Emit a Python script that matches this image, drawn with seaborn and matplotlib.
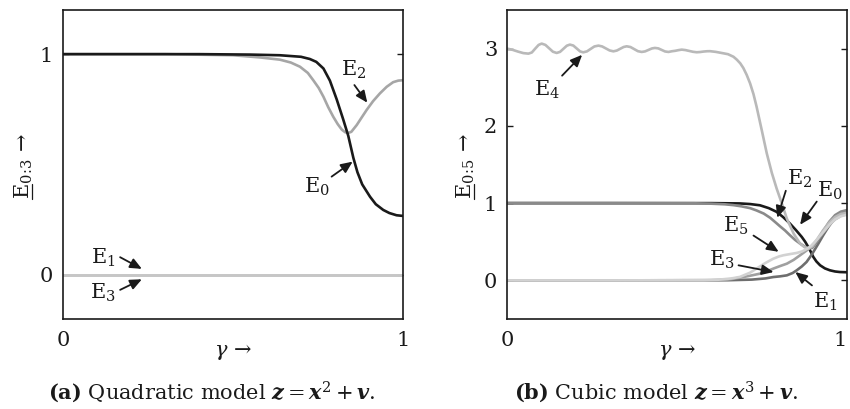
import matplotlib
matplotlib.use("Agg")
import matplotlib.pyplot as plt
import seaborn as sns
from matplotlib.lines import Line2D

# ---- (a) quadratic model -------------------------------------------------
gamma_a_E0 = [0.0, 0.2, 0.4, 0.55, 0.638, 0.70, 0.726, 0.745, 0.766, 0.785, 0.805,
              0.824, 0.839, 0.854, 0.866, 0.88, 0.903, 0.92, 0.942, 0.96, 0.981, 1.0]
E0_a = [1.0, 1.0, 1.0, 0.998, 0.995, 0.988, 0.978, 0.965, 0.935, 0.88, 0.795,
        0.705, 0.63, 0.53, 0.465, 0.41, 0.354, 0.32, 0.294, 0.28, 0.27, 0.267]

gamma_a_E2 = [0.0, 0.3, 0.5, 0.58, 0.638, 0.67, 0.697, 0.72, 0.736, 0.752, 0.766,
              0.78, 0.795, 0.808, 0.82, 0.83, 0.839, 0.848, 0.864, 0.878, 0.893,
              0.912, 0.932, 0.952, 0.971, 0.986, 1.0]
E2_a = [1.0, 1.0, 0.995, 0.985, 0.975, 0.962, 0.943, 0.915, 0.882, 0.847, 0.807,
        0.76, 0.716, 0.683, 0.658, 0.646, 0.643, 0.648, 0.679, 0.712, 0.747,
        0.787, 0.822, 0.852, 0.873, 0.88, 0.882]

gamma_a_E13 = [0.0, 1.0]
E1_a = [0.0, 0.0]
E3_a = [0.0, 0.0]

# ---- (b) cubic model -----------------------------------------------------
gamma_b_E0 = [0.0, 0.3, 0.6, 0.685, 0.715, 0.744, 0.77, 0.793, 0.812, 0.832, 0.85,
              0.867, 0.877, 0.886, 0.894, 0.901, 0.91, 0.921, 0.935, 0.95, 0.965,
              0.979, 1.0]
E0_b = [1.0, 1.0, 1.0, 0.996, 0.988, 0.972, 0.935, 0.887, 0.82, 0.736, 0.65,
        0.562, 0.5, 0.433, 0.365, 0.303, 0.245, 0.195, 0.155, 0.13, 0.115,
        0.108, 0.105]

gamma_b_E1 = [0.0, 0.3, 0.65, 0.72, 0.76, 0.783, 0.803, 0.823, 0.84, 0.852, 0.867,
              0.881, 0.891, 0.901, 0.915, 0.93, 0.945, 0.96, 0.975, 0.99, 1.0]
E1_b = [0.0, 0.0, 0.002, 0.01, 0.025, 0.043, 0.052, 0.065, 0.095, 0.13, 0.18,
        0.238, 0.3, 0.368, 0.47, 0.584, 0.69, 0.78, 0.845, 0.875, 0.885]

gamma_b_E2 = [0.0, 0.3, 0.55, 0.6, 0.64, 0.666, 0.69, 0.715, 0.734, 0.755, 0.774,
              0.79, 0.803, 0.818, 0.832, 0.847, 0.862, 0.875, 0.886, 0.898, 0.912,
              0.93, 0.948, 0.965, 0.982, 1.0]
E2_b = [1.0, 1.0, 0.998, 0.993, 0.985, 0.974, 0.958, 0.935, 0.905, 0.865, 0.81,
        0.75, 0.70, 0.645, 0.585, 0.525, 0.476, 0.44, 0.415, 0.42, 0.5,
        0.64, 0.76, 0.845, 0.89, 0.91]

gamma_b_E3 = [0.0, 0.3, 0.6, 0.65, 0.685, 0.715, 0.744, 0.765, 0.783, 0.803, 0.823,
              0.843, 0.862, 0.876, 0.888, 0.9, 0.915, 0.93, 0.948, 0.965, 0.982, 1.0]
E3_b = [0.0, 0.0, 0.002, 0.01, 0.035, 0.06, 0.087, 0.12, 0.152, 0.185, 0.216,
        0.265, 0.325, 0.37, 0.41, 0.455, 0.53, 0.62, 0.72, 0.79, 0.835, 0.86]

gamma_b_E4 = [0.000, 0.016, 0.032, 0.048, 0.063, 0.073, 0.083, 0.093, 0.102, 0.113,
              0.124, 0.135, 0.146, 0.156, 0.166, 0.176, 0.185, 0.195, 0.205, 0.215,
              0.224, 0.235, 0.246, 0.257, 0.269, 0.280, 0.291, 0.302, 0.313, 0.323,
              0.333, 0.343, 0.352, 0.363, 0.374, 0.385, 0.396, 0.406, 0.416, 0.426,
              0.435, 0.445, 0.455, 0.465, 0.475, 0.485, 0.495, 0.505, 0.514, 0.525,
              0.536, 0.547, 0.558, 0.568, 0.578, 0.588, 0.597, 0.614, 0.631, 0.650,
              0.666, 0.676, 0.686, 0.695, 0.705, 0.715, 0.725, 0.734, 0.749, 0.764,
              0.779, 0.793, 0.808, 0.823, 0.843, 0.862, 0.875, 0.886, 0.898, 0.912,
              0.930, 0.948, 0.965, 0.982, 1.0]
E4_b = [3.000, 2.985, 2.962, 2.942, 2.935, 2.950, 3.000, 3.048, 3.065, 3.048,
        3.004, 2.960, 2.944, 2.958, 2.998, 3.038, 3.052, 3.040, 3.002, 2.964,
        2.952, 2.964, 2.996, 3.028, 3.039, 3.028, 3.002, 2.976, 2.965, 2.975,
        2.998, 3.021, 3.030, 3.021, 2.994, 2.967, 2.957, 2.964, 2.983, 3.002,
        3.009, 3.003, 2.983, 2.963, 2.957, 2.966, 2.972, 2.981, 2.987, 2.981,
        2.970, 2.959, 2.953, 2.956, 2.962, 2.966, 2.967, 2.958, 2.944, 2.928,
        2.895, 2.857, 2.81, 2.75, 2.66, 2.55, 2.41, 2.25, 1.95, 1.645,
        1.39, 1.19, 1.0, 0.8, 0.606, 0.476, 0.43, 0.41, 0.44, 0.53,
        0.65, 0.75, 0.82, 0.86, 0.875]

gamma_b_E5 = [0.0, 0.3, 0.58, 0.62, 0.66, 0.685, 0.715, 0.74, 0.76, 0.783, 0.8,
              0.813, 0.832, 0.852, 0.868, 0.881, 0.895, 0.912, 0.93, 0.948, 0.965,
              0.982, 1.0]
E5_b = [0.0, 0.0, 0.002, 0.008, 0.025, 0.045, 0.1, 0.17, 0.225, 0.28, 0.31,
        0.325, 0.34, 0.355, 0.375, 0.405, 0.45, 0.53, 0.625, 0.72, 0.79,
        0.83, 0.85]

# ---- styling -------------------------------------------------------------
sns.set_theme(style="ticks")
plt.rcParams["font.family"] = ["DejaVu Serif", "DejaVu Sans"]
plt.rcParams["mathtext.fontset"] = "dejavuserif"
plt.rcParams["axes.linewidth"] = 1.2
plt.rcParams["axes.edgecolor"] = "#1a1a1a"

FS = 15
LW = 1.9
BLACK = "#1a1a1a"
W_PX, H_PX = 850, 409


def draw(ax, x, y, color):
    sns.lineplot(x=x, y=y, ax=ax, color=color, linewidth=LW,
                 sort=False, estimator=None)


def label(ax, text, xy, tail, tip):
    ax.text(xy[0], xy[1], text, ha="center", va="center", fontsize=FS,
            color=BLACK)
    ax.annotate("", xy=tip, xytext=tail,
                arrowprops=dict(arrowstyle="-|>,head_length=0.5,head_width=0.22",
                                color=BLACK, lw=1.3, shrinkA=0, shrinkB=0,
                                mutation_scale=14))


def frame(ax, ylim, yticks):
    ax.set_xlim(0, 1)
    ax.set_ylim(*ylim)
    ax.set_xticks([0, 1])
    ax.set_xticklabels(["0", "1"])
    ax.set_yticks(yticks)
    ax.set_yticklabels([str(t) for t in yticks])
    ax.tick_params(axis="y", direction="in", length=4, width=1.0,
                   left=True, right=True, labelsize=FS, pad=7, colors=BLACK)
    ax.tick_params(axis="x", direction="in", length=0, labelsize=FS, pad=9,
                   colors=BLACK)
    for s in ax.spines.values():
        s.set_visible(True)
    ax.set_xlabel(r"$\gamma\,\rightarrow$", fontsize=FS, color=BLACK)
    ax.xaxis.set_label_coords(0.5, -0.107)
    ax.xaxis.label.set_va("center")


def underlined_ylabel(fig, renderer, x_px, y_px, sub):
    """Rotated E_{sub} -> label with the E underlined."""
    s = r"$\mathrm{E}_{%s}\,\rightarrow$" % sub
    t = fig.text(x_px / W_PX, 1 - y_px / H_PX, s, rotation=90, ha="center",
                 va="center", fontsize=FS, color=BLACK)
    prop = t.get_fontproperties()
    bb = t.get_window_extent(renderer)
    w_e, _, _ = renderer.get_text_width_height_descent(r"$\mathrm{E}$", prop,
                                                        ismath=True)
    _, _, desc = renderer.get_text_width_height_descent(s, prop, ismath=True)
    ux = bb.x1 - desc + 2.5
    fig.add_artist(Line2D([ux / W_PX, ux / W_PX],
                          [(bb.y0 + 0.5) / H_PX, (bb.y0 + w_e) / H_PX],
                          transform=fig.transFigure, color=BLACK, lw=0.9))


fig = plt.figure(figsize=(8.5, 4.09), dpi=100)
ax1 = fig.add_axes([63 / 850, 90 / 409, 340 / 850, 309 / 409])
ax2 = fig.add_axes([507 / 850, 90 / 409, 340 / 850, 309 / 409])

# panel (a)
draw(ax1, gamma_a_E13, E1_a, "#c6c6c6")
draw(ax1, gamma_a_E13, E3_a, "#c6c6c6")
draw(ax1, gamma_a_E2, E2_a, "#a6a6a6")
draw(ax1, gamma_a_E0, E0_a, BLACK)
frame(ax1, (-0.2, 1.2), [0, 1])
label(ax1, r"$\mathrm{E}_2$", (0.855, 0.93), (0.857, 0.86), (0.895, 0.78))
label(ax1, r"$\mathrm{E}_0$", (0.746, 0.40), (0.79, 0.445), (0.852, 0.513))
label(ax1, r"$\mathrm{E}_1$", (0.118, 0.077), (0.168, 0.08), (0.232, 0.027))
label(ax1, r"$\mathrm{E}_3$", (0.118, -0.08), (0.168, -0.068), (0.232, -0.02))

# panel (b)
draw(ax2, gamma_b_E0, E0_b, BLACK)
draw(ax2, gamma_b_E1, E1_b, "#6e6e6e")
draw(ax2, gamma_b_E3, E3_b, "#a0a0a0")
draw(ax2, gamma_b_E2, E2_b, "#8a8a8a")
draw(ax2, gamma_b_E4, E4_b, "#b9b9b9")
draw(ax2, gamma_b_E5, E5_b, "#d2d2d2")
frame(ax2, (-0.5, 3.5), [0, 1, 2, 3])
ax2.get_xticklabels()[-1].set_horizontalalignment("right")
label(ax2, r"$\mathrm{E}_4$", (0.118, 2.47), (0.162, 2.65), (0.221, 2.92))
label(ax2, r"$\mathrm{E}_2$", (0.86, 1.31), (0.82, 1.16), (0.795, 0.81))
label(ax2, r"$\mathrm{E}_0$", (0.951, 1.16), (0.911, 1.02), (0.862, 0.72))
label(ax2, r"$\mathrm{E}_5$", (0.672, 0.70), (0.725, 0.58), (0.799, 0.37))
label(ax2, r"$\mathrm{E}_3$", (0.632, 0.27), (0.681, 0.195), (0.784, 0.108))
label(ax2, r"$\mathrm{E}_1$", (0.936, -0.28), (0.897, -0.065), (0.848, 0.108))

# rotated axis labels with underlined E
renderer = fig.canvas.get_renderer()
underlined_ylabel(fig, renderer, 24, 166, r"0\!:\!3")
underlined_ylabel(fig, renderer, 466, 166, r"0\!:\!5")

# sub-captions
fig.text(212 / 850, 1 - 392 / 409,
         r"$\mathbf{(a)}$ Quadratic model $\mathbfit{z} = \mathbfit{x}^{2} + \mathbfit{v}$.",
         ha="center", va="center", fontsize=FS, color=BLACK)
fig.text(656 / 850, 1 - 392 / 409,
         r"$\mathbf{(b)}$ Cubic model $\mathbfit{z} = \mathbfit{x}^{3} + \mathbfit{v}$.",
         ha="center", va="center", fontsize=FS, color=BLACK)

fig.savefig("out.png", dpi=100, facecolor="white")
